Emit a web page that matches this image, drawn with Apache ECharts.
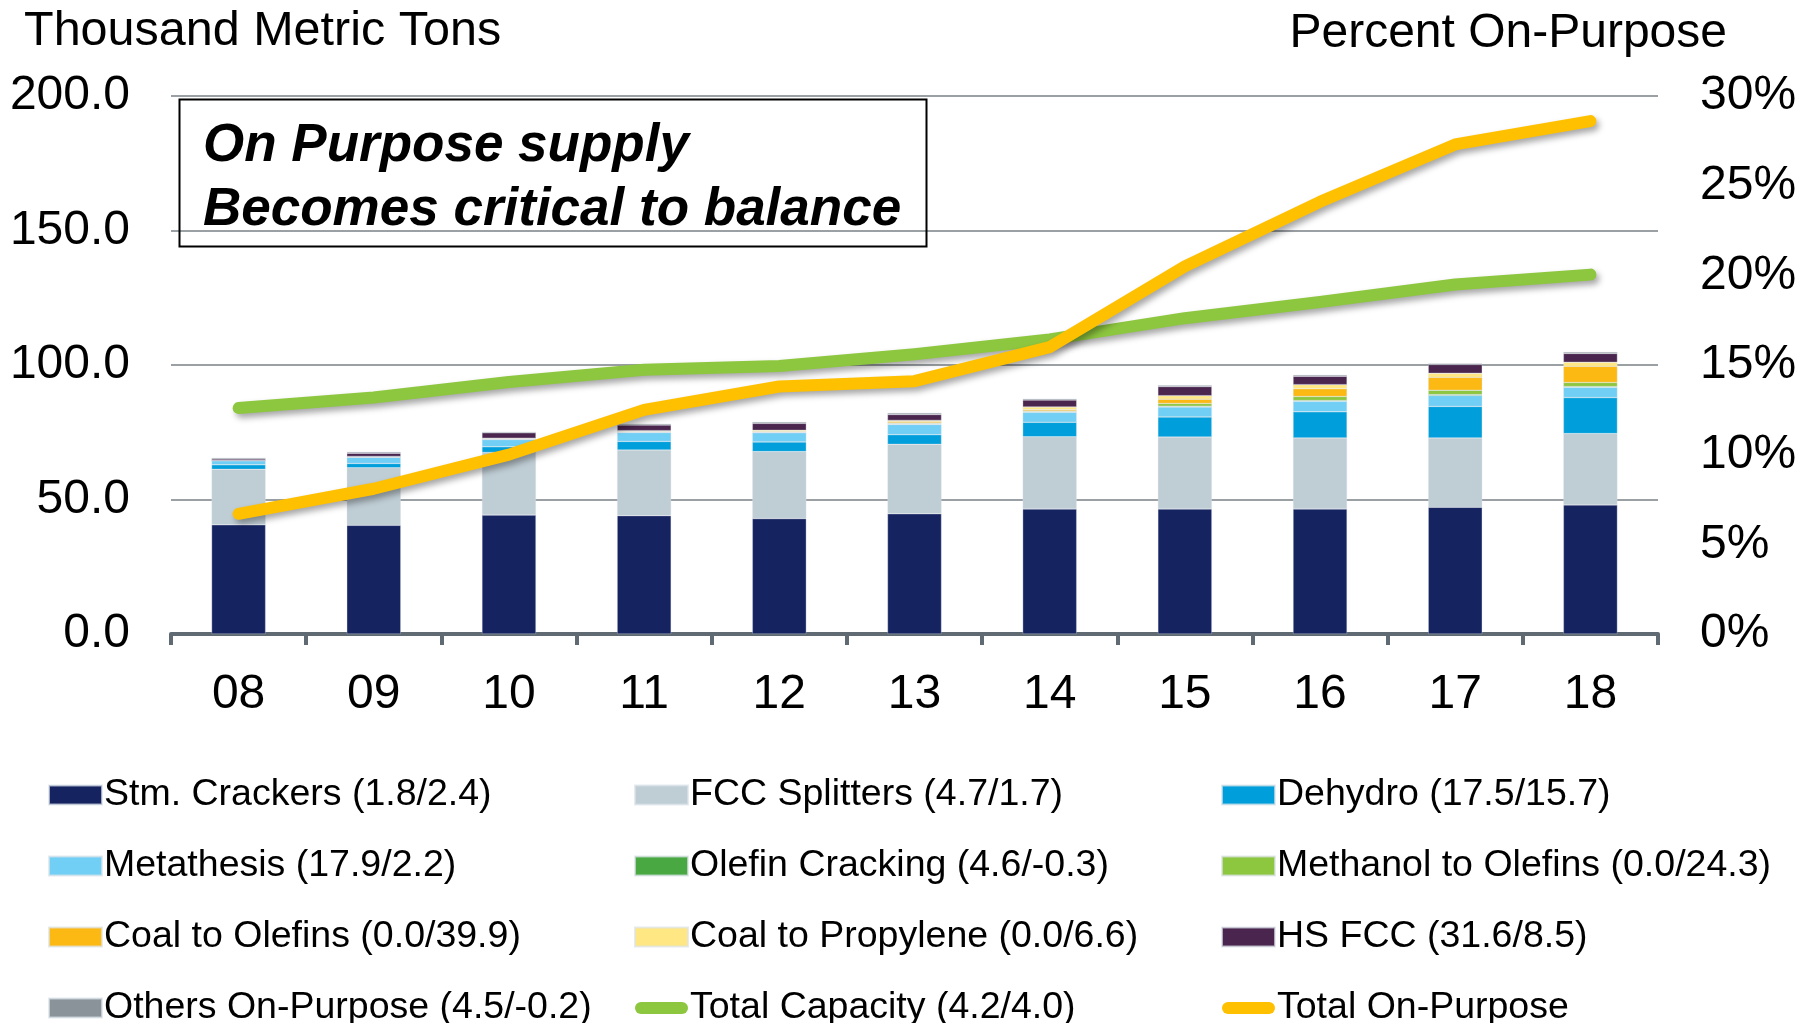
<!DOCTYPE html>
<html>
<head>
<meta charset="utf-8">
<title>On Purpose supply</title>
<script src="https://cdn.jsdelivr.net/npm/echarts@6/dist/echarts.min.js"></script>
<style>
    html, body {
        margin: 0;
        padding: 0;
        background: #fff;
    }

    #canvas {
        width: 1816px;
        height: 1023px;
    }
</style>
</head>
<body>
<div id="canvas"></div>
<script>
// 年份
const years = ['08', '09', '10', '11', '12', '13', '14', '15', '16', '17', '18'];

// 堆叠柱各段 (千公吨)
const stmCrackers = [40.6, 40.4, 44.2, 44.0, 42.9, 44.7, 46.5, 46.5, 46.5, 47.1, 48.0];
const fccSplitters = [20.6, 21.4, 23.3, 24.4, 24.9, 25.8, 26.8, 26.7, 26.4, 25.8, 26.5];
const dehydro = [1.7, 1.6, 2.1, 3.2, 3.6, 3.6, 5.4, 7.5, 9.7, 11.7, 13.4];
const metathesis = [1.5, 2.3, 2.7, 3.3, 3.4, 3.8, 3.7, 3.7, 3.9, 4.1, 3.8];
const olefinCracking = [0.1, 0.1, 0.2, 0.2, 0.2, 0.2, 0.2, 0.3, 0.3, 0.3, 0.3];
const methanolToOlefins = [0, 0, 0, 0, 0, 0.2, 0.3, 1.0, 1.5, 1.6, 1.5];
const coalToOlefins = [0, 0, 0, 0.2, 0.2, 0.5, 0.5, 1.6, 2.9, 4.8, 6.0];
const coalToPropylene = [0, 0.2, 0.3, 0.3, 0.5, 0.6, 1.0, 1.3, 1.5, 1.5, 1.5];
const hsFcc = [0.6, 1.2, 2.0, 2.1, 2.6, 2.2, 2.6, 3.4, 3.1, 3.3, 3.3];
const othersOnPurpose = [0.4, 0.5, 0.4, 0.5, 0.5, 0.6, 0.5, 0.5, 0.5, 0.4, 0.5];

// 折线
const totalCapacity = [84.0, 87.9, 93.7, 98.2, 99.6, 104.0, 109.5, 117.4, 123.4, 129.9, 133.6];
const totalOnPurposePct = [6.7, 8.1, 10.0, 12.5, 13.8, 14.1, 16.0, 20.5, 24.1, 27.3, 28.6];

// 刻度
const leftTicks = [0, 200, 50];
const rightTicks = [0, 30, 5];

const FONT = '"Liberation Sans", Arial, sans-serif';

const barDefs = [
    {name: 'Stm. Crackers (1.8/2.4)', data: stmCrackers, color: '#152361'},
    {name: 'FCC Splitters (4.7/1.7)', data: fccSplitters, color: '#bfcdd4'},
    {name: 'Dehydro (17.5/15.7)', data: dehydro, color: '#009fdb'},
    {name: 'Metathesis (17.9/2.2)', data: metathesis, color: '#71cff5'},
    {name: 'Olefin Cracking (4.6/-0.3)', data: olefinCracking, color: '#4aa842'},
    {name: 'Methanol to Olefins (0.0/24.3)', data: methanolToOlefins, color: '#8dc63f'},
    {name: 'Coal to Olefins (0.0/39.9)', data: coalToOlefins, color: '#fdb913'},
    {name: 'Coal to Propylene (0.0/6.6)', data: coalToPropylene, color: '#ffe783'},
    {name: 'HS FCC (31.6/8.5)', data: hsFcc, color: '#4a254e'},
    {name: 'Others On-Purpose (4.5/-0.2)', data: othersOnPurpose, color: '#8a9399'}
];

const lineDefs = [
    {name: 'Total Capacity (4.2/4.0)', data: totalCapacity, color: '#8dc63f', axis: 0},
    {name: 'Total On-Purpose', data: totalOnPurposePct, color: '#ffc000', axis: 1}
];

const lineIcon = 'path://M6,0 L47,0 A6,6 0 0 1 47,12 L6,12 A6,6 0 0 1 6,0 Z';

function legendColumn(left, names) {
    return {
        orient: 'vertical',
        left: left,
        top: 775,
        height: 320,
        padding: 0,
        itemWidth: 53,
        itemHeight: 19,
        itemGap: 31,
        selectedMode: false,
        textStyle: {
            fontFamily: FONT,
            fontSize: 37.5,
            lineHeight: 40,
            color: '#000',
            padding: [0, 0, 0, -3]
        },
        data: names.map(n => {
            const isLine = lineDefs.some(l => l.name === n);

            return isLine ? {name: n, icon: lineIcon} : {name: n, icon: 'rect'};
        })
    };
}

const chart = echarts.init(document.getElementById('canvas'), null, {renderer: 'canvas'});

const series = [];

barDefs.forEach(d => {
    series.push({
        name: d.name,
        type: 'bar',
        stack: 'supply',
        barWidth: 54,
        yAxisIndex: 0,
        data: d.data,
        itemStyle: {color: d.color, borderColor: 'rgba(220,226,232,0.7)', borderWidth: 0.5},
        emphasis: {disabled: true}
    });
});

lineDefs.forEach(d => {
    series.push({
        name: d.name,
        type: 'line',
        yAxisIndex: d.axis,
        data: d.data,
        symbol: 'none',
        z: 5,
        color: d.color,
        lineStyle: {
            color: d.color,
            width: 12,
            cap: 'round',
            join: 'round',
            shadowColor: 'rgba(0,0,0,0.35)',
            shadowBlur: 6,
            shadowOffsetX: 3,
            shadowOffsetY: 4
        },
        emphasis: {disabled: true}
    });
});

const option = {
    animation: false,
    backgroundColor: '#fff',
    grid: {left: 171, right: 158, top: 96, bottom: 389},
    xAxis: {
        type: 'category',
        data: years,
        boundaryGap: true,
        axisLine: {lineStyle: {color: '#5f6a72', width: 4}},
        axisTick: {show: true, length: 11, lineStyle: {color: '#5f6a72', width: 4}},
        axisLabel: {fontFamily: FONT, fontSize: 48, color: '#000', margin: 37}
    },
    yAxis: [{
        type: 'value',
        min: leftTicks[0],
        max: leftTicks[1],
        interval: leftTicks[2],
        axisLine: {show: false},
        axisTick: {show: false},
        splitLine: {lineStyle: {color: '#9aa0a4', width: 2}},
        axisLabel: {
            fontFamily: FONT, fontSize: 48, color: '#000', margin: 41,
            padding: [6, 0, 0, 0],
            formatter: v => v.toFixed(1)
        }
    }, {
        type: 'value',
        min: rightTicks[0],
        max: rightTicks[1],
        interval: rightTicks[2],
        axisLine: {show: false},
        axisTick: {show: false},
        splitLine: {show: false},
        axisLabel: {
            fontFamily: FONT, fontSize: 48, color: '#000', margin: 42,
            padding: [6, 0, 0, 0],
            formatter: '{value}%'
        }
    }],
    legend: [
        legendColumn(48, [barDefs[0].name, barDefs[3].name, barDefs[6].name, barDefs[9].name]),
        legendColumn(634, [barDefs[1].name, barDefs[4].name, barDefs[7].name, lineDefs[0].name]),
        legendColumn(1221, [barDefs[2].name, barDefs[5].name, barDefs[8].name, lineDefs[1].name])
    ],
    graphic: [
        {
            type: 'text', left: 24, top: 7, z: 10,
            style: {text: 'Thousand Metric Tons', font: `48.5px ${FONT}`, fill: '#000'}
        },
        {
            type: 'text', right: 89, top: 10, z: 10,
            style: {text: 'Percent On-Purpose', font: `48px ${FONT}`, fill: '#000'}
        },
        {
            type: 'rect', z: 10,
            shape: {x: 179.5, y: 99.5, width: 747, height: 147},
            style: {fill: 'none', stroke: '#000', lineWidth: 2}
        },
        {
            type: 'text', x: 203, y: 146, z: 10,
            style: {
                text: 'On Purpose supply', font: `italic bold 53px ${FONT}`,
                fill: '#000', verticalAlign: 'middle'
            }
        },
        {
            type: 'text', x: 203, y: 210, z: 10,
            style: {
                text: 'Becomes critical to balance', font: `italic bold 53px ${FONT}`,
                fill: '#000', verticalAlign: 'middle'
            }
        }
    ],
    series: series
};

chart.setOption(option);
</script>
</body>
</html>
